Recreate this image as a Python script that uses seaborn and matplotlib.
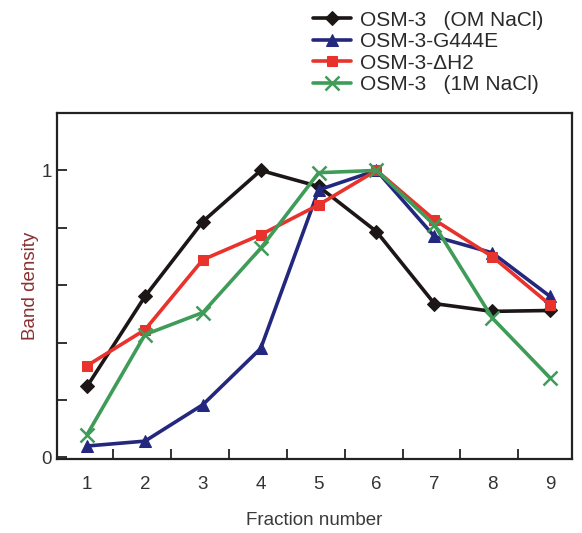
import matplotlib
matplotlib.use("Agg")
import matplotlib.pyplot as plt
import seaborn as sns
import pandas as pd
import numpy as np

fractions = [1, 2, 3, 4, 5, 6, 7, 8, 9]
osm3_0m = [0.248, 0.561, 0.822, 1.0, 0.944, 0.787, 0.536, 0.509, 0.512]
osm3_g444e = [0.04, 0.057, 0.184, 0.38, 0.932, 1.0, 0.77, 0.713, 0.561]
osm3_dh2 = [0.32, 0.445, 0.689, 0.776, 0.88, 1.0, 0.828, 0.70, 0.532]
osm3_1m = [0.08, 0.428, 0.505, 0.729, 0.992, 1.0, 0.81, 0.486, 0.277]
series_names = ["OSM-3   (OM NaCl)", "OSM-3-G444E", "OSM-3-ΔH2", "OSM-3   (1M NaCl)"]
y_tick_labels = ["0", "1"]

sns.set_theme(style="white")
plt.rcParams['font.family'] = ['Liberation Sans', 'DejaVu Sans']

fig = plt.figure(figsize=(5.82, 5.33), dpi=100)
ax = fig.add_axes([0.098, 0.139, 0.885, 0.649])

styles = [
    dict(color="#1c1616", marker="D", markersize=7),
    dict(color="#23287e", marker="^", markersize=8.5),
    dict(color="#e8322c", marker="s", markersize=7.5),
    dict(color="#3f9c58", marker="x", markersize=9.5, markeredgewidth=1.8),
]
all_vals = [osm3_0m, osm3_g444e, osm3_dh2, osm3_1m]
for name, vals, st in zip(series_names, all_vals, styles):
    df = pd.DataFrame({"Fraction": fractions, "Density": vals})
    sns.lineplot(data=df, x="Fraction", y="Density", ax=ax, label=name,
                 linewidth=2.6, markeredgecolor=st["color"], **st)

ax.set_xlim(0.48, 9.38)
ax.set_ylim(-0.005, 1.2)
ax.set_xticks(fractions)
ax.set_xticklabels([str(f) for f in fractions])
ax.set_xticks([f + 0.45 for f in fractions[:-1]], minor=True)
ax.set_yticks([0, 1])
ax.set_yticklabels(y_tick_labels)
ax.set_yticks([0.2, 0.4, 0.6, 0.8], minor=True)
ax.tick_params(axis="x", which="major", length=0, labelsize=13.5, colors="#333333", pad=12)
ax.tick_params(axis="x", which="minor", direction="in", length=7, width=1.3, color="#222222", bottom=True)
ax.tick_params(axis="y", which="both", direction="in", length=7, width=1.3, color="#222222", labelsize=13.5, labelcolor="#333333", left=True)
for sp in ax.spines.values():
    sp.set_color("#222222")
    sp.set_linewidth(1.6)

ax.set_xlabel("Fraction number", fontsize=13.5, color="#3a3a3a", labelpad=14)
ax.set_ylabel("Band density", fontsize=13.5, color="#8a3030", labelpad=2)

handles, labels = ax.get_legend_handles_labels()
ax.get_legend().remove()
fig.legend(handles, labels, loc="upper left", bbox_to_anchor=(0.538, 0.980),
           frameon=False, fontsize=15, labelspacing=0.12, handlelength=1.8,
           handletextpad=0.45, borderpad=0, borderaxespad=0, labelcolor="#2a2a2a")

fig.savefig("out.png", dpi=100)
